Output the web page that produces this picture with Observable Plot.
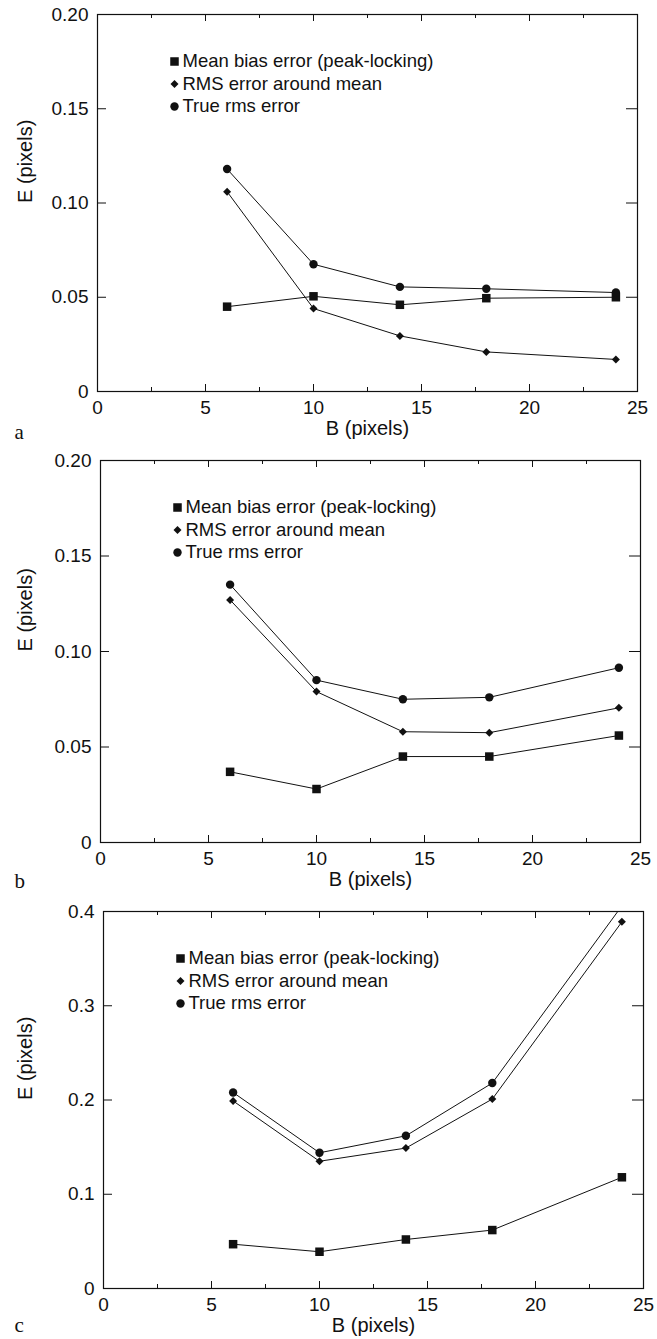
<!DOCTYPE html>
<html>
<head>
<meta charset="utf-8">
<script src="https://cdn.jsdelivr.net/npm/d3@7"></script>
<script src="https://cdn.jsdelivr.net/npm/@observablehq/plot@0.6"></script>
<style>
  html, body { margin: 0; padding: 0; background: #fff; }
  #chart svg { display: block; }
</style>
</head>
<body>
<div id="chart"></div>
<script>
// ---- data ----
const B = [6, 10, 14, 18, 24];

const biasA = [0.045, 0.0505, 0.046, 0.0495, 0.050];
const rmsA  = [0.106, 0.044, 0.0295, 0.021, 0.017];
const trueA = [0.118, 0.0675, 0.0555, 0.0545, 0.0525];

const biasB = [0.037, 0.028, 0.045, 0.045, 0.056];
const rmsB  = [0.127, 0.079, 0.058, 0.0575, 0.0705];
const trueB = [0.135, 0.085, 0.075, 0.076, 0.0915];

const biasC = [0.047, 0.039, 0.052, 0.062, 0.118];
const rmsC  = [0.199, 0.135, 0.149, 0.201, 0.389];
const trueC = [0.208, 0.144, 0.162, 0.218, 0.406];

const xTicks = [0, 5, 10, 15, 20, 25];
const xMinorTicks = [2.5, 7.5, 12.5, 17.5, 22.5];
const yTicksAB = [0, 0.05, 0.10, 0.15, 0.20];
const yTicksC = [0, 0.1, 0.2, 0.3, 0.4];
const legendLabels = ["Mean bias error (peak-locking)", "RMS error around mean", "True rms error"];
const xLabel = "B (pixels)";
const yLabel = "E (pixels)";

// ---- drawing ----
const FONT = "'Liberation Sans', Arial, Helvetica, sans-serif";
const INK = "#111";
const symbols = ["square", "diamond2", "circle"];
const radii = [4.8, 3.6, 4.2];

function series(vals) { return B.map((b, i) => ({B: b, E: vals[i]})); }

function panel(o) {
  const W = 657;
  const plotW = W - o.marginLeft - o.marginRight;
  const plotH = o.height - o.marginTop - o.marginBottom;
  const inner = o.yTicks.filter(t => t > 0 && t < o.yMax);
  const all = [o.bias, o.rms, o.trueE];
  const marks = [
    // box
    Plot.frame({stroke: INK, strokeWidth: 1.2}),
    // inward ticks bottom & top
    Plot.ruleX(xTicks, {x: d => d, stroke: INK, insetTop: plotH - 7}),
    Plot.ruleX(xMinorTicks, {x: d => d, stroke: INK, insetTop: plotH - 4}),
    Plot.ruleX(xTicks, {x: d => d, stroke: INK, insetBottom: plotH - 7}),
    Plot.ruleX(xMinorTicks, {x: d => d, stroke: INK, insetBottom: plotH - 4}),
    // inward ticks left & right
    Plot.ruleY(inner, {y: d => d, stroke: INK, insetRight: plotW - 9}),
    Plot.ruleY(inner, {y: d => d, stroke: INK, insetLeft: plotW - 11}),
    // tick labels
    Plot.axisX({ticks: xTicks, tickSize: 0, tickPadding: 9, fontSize: 19, label: null, tickFormat: d => String(d), fill: INK}),
    Plot.axisY({ticks: o.yTicks, tickSize: 0, tickPadding: 9, fontSize: 19, label: null, tickFormat: o.fmt, fill: INK}),
    // axis titles
    Plot.text([xLabel], {text: d => d, frameAnchor: "bottom", lineAnchor: "middle", dy: 37, fontSize: 20, fill: INK}),
    Plot.text([yLabel], {text: d => d, frameAnchor: "left", lineAnchor: "middle", dx: 25 - o.marginLeft, rotate: -90, fontSize: 20, fill: INK}),
    // panel letter
    Plot.text([o.letter], {text: d => d, frameAnchor: "bottom-left", textAnchor: "start", lineAnchor: "middle", dx: 14 - o.marginLeft, dy: o.letterDy, fontSize: 21, fontFamily: "'Liberation Serif', 'Times New Roman', serif", fill: INK})
  ];
  all.forEach((vals, i) => {
    const d = series(vals);
    marks.push(Plot.line(d, {x: "B", y: "E", stroke: INK, strokeWidth: 1, clip: true}));
    marks.push(Plot.dot(d, {x: "B", y: "E", symbol: symbols[i], r: radii[i], fill: INK, stroke: "none", clip: true}));
  });
  legendLabels.forEach((lab, i) => {
    marks.push(Plot.dot([lab], {frameAnchor: "top-left", dx: 77, dy: 47 + i * 22.5, symbol: symbols[i], r: radii[i], fill: INK, stroke: "none"}));
    marks.push(Plot.text([lab], {text: d => d, frameAnchor: "top-left", textAnchor: "start", lineAnchor: "middle", dx: 85, dy: 47 + i * 22.5, fontSize: 18.5, fill: INK}));
  });
  return Plot.plot({
    width: W,
    height: o.height,
    marginLeft: o.marginLeft,
    marginRight: o.marginRight,
    marginTop: o.marginTop,
    marginBottom: o.marginBottom,
    style: {fontFamily: FONT, background: "#fff", color: INK},
    x: {domain: [0, 25], axis: null},
    y: {domain: [0, o.yMax], axis: null},
    marks
  });
}

const fmt2 = d => d === 0 ? "0" : d.toFixed(2);
const fmt1 = d => d === 0 ? "0" : d.toFixed(1);

const chart = document.getElementById("chart");
chart.append(panel({bias: biasA, rms: rmsA, trueE: trueA, yMax: 0.2, yTicks: yTicksAB, fmt: fmt2, letter: "a", letterDy: 41,
  marginLeft: 97, marginRight: 20, marginTop: 14, marginBottom: 55, height: 446}));
chart.append(panel({bias: biasB, rms: rmsB, trueE: trueB, yMax: 0.2, yTicks: yTicksAB, fmt: fmt2, letter: "b", letterDy: 39,
  marginLeft: 100, marginRight: 17, marginTop: 14, marginBottom: 52, height: 448}));
chart.append(panel({bias: biasC, rms: rmsC, trueE: trueC, yMax: 0.4, yTicks: yTicksC, fmt: fmt1, letter: "c", letterDy: 37,
  marginLeft: 103, marginRight: 14, marginTop: 17, marginBottom: 51, height: 445}));
</script>
</body>
</html>
